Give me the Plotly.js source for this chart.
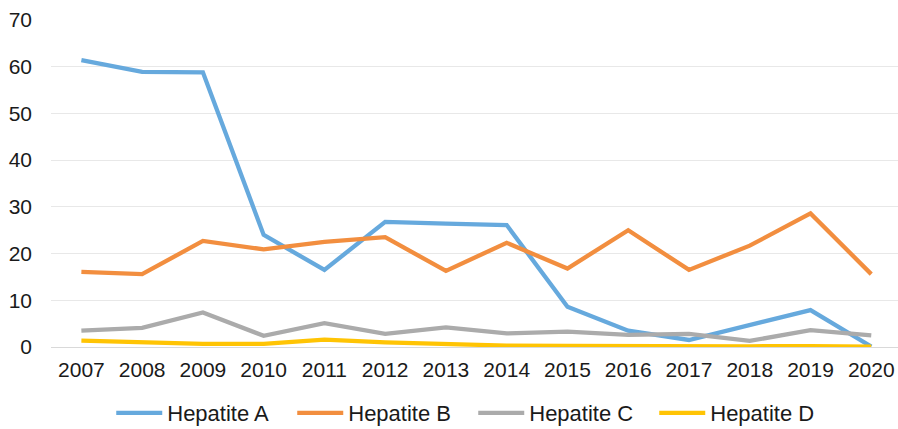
<!DOCTYPE html>
<html>
<head>
<meta charset="utf-8">
<script src="https://cdn.plot.ly/plotly-3.0.1.min.js"></script>
<style>html,body{margin:0;padding:0;background:#fff;}#chart{width:898px;height:429px;}</style>
</head>
<body>
<div id="chart"></div>
<script>
const years = ['2007','2008','2009','2010','2011','2012','2013','2014','2015','2016','2017','2018','2019','2020'];
const hepA = [61.4, 58.9, 58.8, 24.0, 16.5, 26.8, 26.4, 26.1, 8.6, 3.5, 1.5, 4.6, 7.9, 0.1];
const hepB = [16.1, 15.6, 22.7, 20.9, 22.5, 23.5, 16.3, 22.3, 16.8, 25.0, 16.5, 21.7, 28.6, 15.6];
const hepC = [3.5, 4.1, 7.4, 2.4, 5.1, 2.8, 4.2, 2.9, 3.3, 2.6, 2.8, 1.3, 3.6, 2.5];
const hepD = [1.35, 0.9, 0.65, 0.65, 1.6, 1.0, 0.6, 0.3, 0.25, 0.15, 0.15, 0.15, 0.2, 0.1];
const names = ['Hepatite A','Hepatite B','Hepatite C','Hepatite D'];
const colors = ['#66A9DD','#F28E3F','#ABABAB','#FFC404'];
const series = [hepA, hepB, hepC, hepD];

const traces = series.map((s, i) => ({
  x: years, y: s, name: names[i], type: 'scatter', mode: 'lines',
  line: {color: colors[i], width: 4.3}
}));

const layout = {
  width: 898, height: 429,
  margin: {l: 51, r: 0, t: 20, b: 82, autoexpand: false},
  paper_bgcolor: '#fff', plot_bgcolor: '#fff',
  font: {family: 'Liberation Sans, Arial, sans-serif', size: 21, color: '#1a1a1a'},
  xaxis: {type: 'category', range: [-0.5, 13.44], showgrid: false, zeroline: false,
          showline: false, ticks: '', tickfont: {size: 21}, ticklabelstandoff: 8},
  yaxis: {range: [0, 70], dtick: 10, showgrid: true, gridcolor: '#E8E8E8', gridwidth: 1,
          zeroline: true, zerolinecolor: '#D9D9D9', zerolinewidth: 1,
          showline: false, ticks: '', tickfont: {size: 21}, ticklabelstandoff: 18},
  legend: {orientation: 'h', x: 0.527, xref: 'container', xanchor: 'center',
           y: 16/429, yref: 'container', yanchor: 'middle',
           font: {size: 22}, itemwidth: 46, entrywidth: 120, entrywidthmode: 'pixels',
           traceorder: 'normal'},
  showlegend: true
};
Plotly.newPlot('chart', traces, layout, {displayModeBar: false, staticPlot: true});
</script>
</body>
</html>
